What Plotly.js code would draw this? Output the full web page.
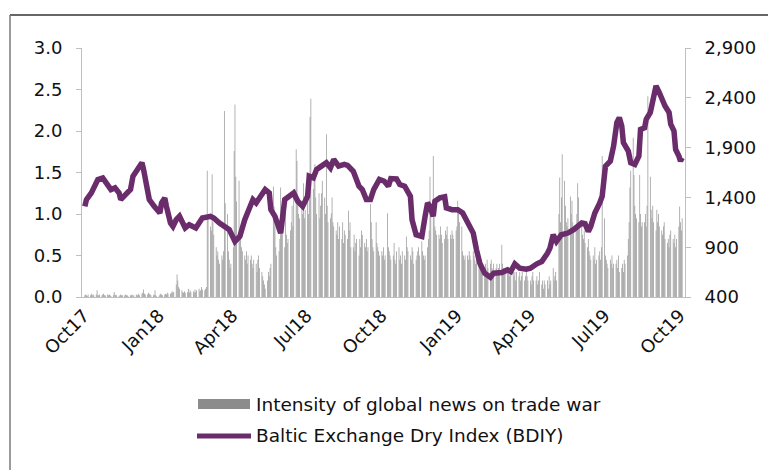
<!DOCTYPE html>
<html>
<head>
<meta charset="utf-8">
<script src="https://cdn.plot.ly/plotly-3.0.1.min.js"></script>
<style>html,body{margin:0;padding:0;background:#fff}#chart{width:768px;height:470px}</style>
</head>
<body>
<div id="chart"></div>
<script>
// ---- DATA ----
const newsStart = '2017-10-02'; // first business day; one value per business day (Mon-Fri)
const newsValues = [
  0.02,0.03,0.02,0.01,0.03, 0.02,0.04,0.02,0.03,0.02, 0.03,0.08,0.02,0.02,0.03, 0.02,0.03,0.04,0.02,0.02,
  0.03,0.02,0.03,0.02,0.01, 0.02,0.06,0.03,0.02,0.02, 0.01,0.02,0.03,0.02,0.02, 0.02,0.03,0.02,0.02,0.01,
  0.02,0.02,0.03,0.01,0.02, 0.03,0.02,0.02,0.04,0.02, 0.04,0.05,0.09,0.04,0.03, 0.03,0.05,0.04,0.03,0.02,
  0.02,0.03,0.08,0.02,0.01, 0.01,0.03,0.04,0.03,0.02, 0.03,0.04,0.03,0.05,0.04, 0.04,0.05,0.07,0.05,0.06,
  0.15,0.27,0.20,0.12,0.10, 0.08,0.06,0.05,0.07,0.05, 0.06,0.10,0.05,0.08,0.06, 0.07,0.05,0.09,0.06,0.08,
  0.10,0.07,0.08,0.12,0.09, 0.08,0.10,0.12,1.52,0.95, 0.85,0.80,1.48,0.90,0.75, 0.60,0.50,0.55,0.45,0.40,
  0.50,0.45,0.55,2.24,1.13, 1.00,0.55,0.45,0.35,0.40, 0.60,1.76,2.32,1.45,1.15, 1.40,0.80,0.70,0.60,0.55,
  0.50,0.45,0.55,0.40,0.50, 0.45,0.50,0.40,0.35,0.45, 0.40,0.30,0.45,0.50,0.35, 0.30,0.25,0.20,0.15,0.10,
  0.20,0.30,0.25,0.35,0.40, 1.33,1.09,0.85,0.60,0.50, 0.55,0.70,1.32,0.90,0.80, 0.60,1.20,0.75,0.65,0.70,
  0.80,0.90,1.10,0.85,1.30, 1.78,1.64,1.20,1.00,0.95, 1.10,1.00,1.37,0.95,1.05, 1.20,1.00,1.30,2.17,2.39,
  1.30,1.45,1.60,1.20,1.00, 1.25,0.95,1.10,1.25,1.40, 1.20,1.00,1.96,1.10,0.90, 0.95,1.01,1.20,0.90,0.85,
  0.80,0.75,0.90,0.70,0.85, 0.70,0.90,0.65,0.80,0.75, 0.70,1.04,0.80,0.90,0.60, 0.60,0.75,0.55,0.65,0.70,
  0.50,0.70,0.60,0.80,0.75, 0.65,0.60,0.70,0.55,0.60, 1.12,0.90,0.70,0.60,0.55, 0.90,0.65,0.60,0.55,0.50,
  0.55,0.50,0.60,0.45,0.50, 1.01,0.60,0.55,0.50,0.45, 0.50,0.65,0.45,0.40,0.55, 0.60,0.45,0.50,0.40,0.55,
  0.50,0.45,0.73,0.60,0.55, 0.50,0.45,0.60,0.55,0.40, 0.45,0.50,0.55,0.60,0.50, 0.67,0.55,0.50,0.45,0.50,
  0.60,0.70,0.80,1.45,1.00, 1.70,1.16,0.85,0.80,0.75, 0.75,0.70,0.85,0.75,0.65, 0.70,0.80,0.75,0.85,0.70,
  0.75,0.70,0.80,0.75,0.70, 0.80,0.85,1.16,1.00,0.90, 0.85,0.55,0.50,0.45,0.50, 0.50,0.45,0.55,0.50,0.45,
  0.55,0.50,0.45,0.40,0.50, 0.45,0.40,0.35,0.45,0.40, 0.35,0.40,0.30,0.45,0.35, 0.40,0.45,0.35,0.30,0.40,
  0.35,0.40,0.30,0.35,0.40, 0.63,0.40,0.35,0.30,0.35, 0.35,0.30,0.25,0.30,0.35, 0.30,0.25,0.30,0.20,0.30,
  0.25,0.30,0.20,0.25,0.30, 0.20,0.25,0.30,0.25,0.20, 0.20,0.15,0.25,0.30,0.20, 0.20,0.25,0.15,0.20,0.30,
  0.15,0.20,0.10,0.20,0.15, 0.20,0.10,0.25,0.15,0.20, 0.35,0.20,0.25,0.30,0.20, 1.00,1.44,0.90,1.20,1.72,
  1.40,1.10,0.90,0.85,0.95, 1.21,1.00,1.16,0.90,0.80, 0.85,1.00,1.37,1.20,0.90, 0.85,0.75,0.70,0.80,0.65,
  0.60,0.70,0.55,0.50,0.45, 0.50,0.45,0.60,0.40,0.45, 0.50,0.55,0.45,0.60,1.70, 0.95,0.50,0.45,0.40,0.35,
  0.45,0.40,0.50,0.35,0.40, 0.40,0.45,0.35,0.50,0.30, 0.35,0.40,0.30,0.45,0.40, 0.50,0.70,0.90,1.32,1.52,
  1.92,1.47,1.10,1.00,0.95, 0.90,1.47,1.00,0.85,0.90, 0.90,1.00,0.85,1.10,2.42, 1.45,1.05,0.95,1.10,0.90,
  0.80,1.05,0.90,1.00,0.85, 0.80,0.75,0.85,0.90,0.70, 0.65,0.70,0.60,0.75,0.80, 0.70,0.65,0.75,0.60,0.70,
  0.85,1.09,0.90,0.80,0.95
];

const bdiDates = [
  '2017-10-02','2017-10-04','2017-10-10','2017-10-18','2017-10-24','2017-10-30','2017-11-03','2017-11-08',
  '2017-11-13','2017-11-15','2017-11-17','2017-11-22','2017-11-27','2017-11-30','2017-12-05','2017-12-11',
  '2017-12-13','2017-12-15','2017-12-18','2017-12-20','2017-12-26','2018-01-02','2018-01-04','2018-01-08',
  '2018-01-10','2018-01-12','2018-01-15','2018-01-18','2018-01-22','2018-01-26','2018-01-30','2018-02-02',
  '2018-02-07','2018-02-12','2018-02-15','2018-02-19','2018-02-23','2018-03-05','2018-03-09','2018-03-16',
  '2018-03-23','2018-03-28','2018-04-04','2018-04-10','2018-04-16','2018-04-23','2018-04-26','2018-04-30',
  '2018-05-07','2018-05-11','2018-05-16','2018-05-18','2018-05-23','2018-05-28','2018-05-30','2018-06-04',
  '2018-06-11','2018-06-15','2018-06-20','2018-06-26','2018-07-02','2018-07-04','2018-07-09','2018-07-13',
  '2018-07-19','2018-07-25','2018-07-30','2018-08-03','2018-08-09','2018-08-16','2018-08-20','2018-08-27',
  '2018-09-03','2018-09-07','2018-09-12','2018-09-17','2018-09-21','2018-09-28','2018-10-04','2018-10-09',
  '2018-10-12','2018-10-19','2018-10-23','2018-10-29','2018-11-05','2018-11-07','2018-11-12','2018-11-19',
  '2018-11-23','2018-11-26','2018-11-29','2018-12-03','2018-12-05','2018-12-11','2018-12-17','2018-12-19',
  '2018-12-26','2019-01-02','2019-01-08','2019-01-14','2019-01-17','2019-01-21','2019-01-25','2019-01-29',
  '2019-02-04','2019-02-11','2019-02-15','2019-02-25','2019-03-04','2019-03-08','2019-03-13','2019-03-19',
  '2019-03-27','2019-04-01','2019-04-09','2019-04-15','2019-04-22','2019-04-25','2019-04-29','2019-05-03',
  '2019-05-09','2019-05-17','2019-05-24','2019-06-03','2019-06-07','2019-06-11','2019-06-14','2019-06-19',
  '2019-06-25','2019-06-28','2019-07-02','2019-07-08','2019-07-12','2019-07-16','2019-07-19','2019-07-22',
  '2019-07-24','2019-07-30','2019-08-02','2019-08-07','2019-08-12','2019-08-14','2019-08-19','2019-08-21',
  '2019-08-26','2019-08-30','2019-09-02','2019-09-06','2019-09-10','2019-09-13','2019-09-18','2019-09-20',
  '2019-09-24','2019-09-26','2019-09-30','2019-10-02','2019-10-04'
];
const bdiValues = [
  1310,1378,1445,1580,1596,1529,1479,1496,
  1445,1378,1395,1445,1479,1613,1680,1748,
  1680,1596,1512,1378,1310,1244,1344,1395,
  1310,1244,1143,1109,1176,1210,1143,1093,
  1126,1109,1093,1143,1193,1210,1193,1143,
  1109,1076,957,1008,1176,1344,1378,1344,
  1445,1479,1445,1277,1210,1076,1042,1378,
  1411,1445,1361,1310,1411,1613,1596,1680,
  1714,1748,1697,1781,1714,1731,1721,1663,
  1512,1479,1378,1378,1479,1580,1562,1512,
  1589,1586,1529,1512,1411,1176,1025,1008,
  1210,1344,1310,1210,1361,1395,1405,1294,
  1277,1277,1244,1143,1109,1042,874,740,
  639,598,639,645,672,655,733,689,
  679,689,733,756,840,891,1025,957,
  1025,1042,1076,1143,1136,1058,1109,1244,
  1344,1411,1714,1764,1915,2151,2201,2117,
  1949,1865,1748,1731,1815,2083,2100,2184,
  2252,2419,2520,2453,2369,2318,2252,2134,
  2067,1882,1815,1764,1798
];

const tickDates = ['2017-10-01','2018-01-01','2018-04-01','2018-07-01','2018-10-01','2019-01-01','2019-04-01','2019-07-01','2019-10-01'];
const tickLabels = ['Oct17','Jan18','Apr18','Jul18','Oct18','Jan19','Apr19','Jul19','Oct19'];
const seriesNames = ['Intensity of global news on trade war','Baltic Exchange Dry Index (BDIY)'];

// ---- BUILD ----
const newsDates = [];
const cur = new Date(newsStart + 'T00:00:00Z');
while (newsDates.length < newsValues.length) {
  const wd = cur.getUTCDay();
  if (wd !== 0 && wd !== 6) newsDates.push(cur.toISOString().slice(0, 10));
  cur.setUTCDate(cur.getUTCDate() + 1);
}

const purple = '#6b2c6b';
const barGray = '#999999';
const axisGray = '#bfbfbf';
const fontFam = 'DejaVu Sans, Liberation Sans, Arial, sans-serif';
const tickFont = {family: fontFam, size: 18, color: '#111'};

const traces = [
  {type: 'bar', x: newsDates, y: newsValues, name: seriesNames[0],
   marker: {color: barGray, line: {width: 0}}, yaxis: 'y', hoverinfo: 'skip'},
  {type: 'scatter', mode: 'lines', x: bdiDates, y: bdiValues, name: seriesNames[1],
   line: {color: purple, width: 5.5}, yaxis: 'y2', hoverinfo: 'skip'}
];

// plot area in pixels: x 82..685, y 48..297
const L = 82, R = 685, T = 48, B = 297;
const px = v => (v - L) / (R - L);
const py = v => (B - v) / (B - T);

const layout = {
  width: 768, height: 470,
  margin: {l: L, r: 768 - R, t: T, b: 470 - B, pad: 0},
  paper_bgcolor: '#fff', plot_bgcolor: '#fff',
  showlegend: false,
  bargap: 0.08,
  font: tickFont,
  xaxis: {
    type: 'date', range: ['2017-09-28 13:00', '2019-10-07 12:00'],
    tickmode: 'array', tickvals: tickDates, ticktext: tickLabels, tickangle: -45,
    showgrid: false, zeroline: false, showline: true, linecolor: axisGray, linewidth: 1,
    ticks: '', tickfont: tickFont
  },
  yaxis: {
    range: [0, 3], tick0: 0, dtick: 0.5, tickformat: '.1f',
    showgrid: false, zeroline: false, showline: true, linecolor: axisGray, linewidth: 1,
    ticks: 'outside', ticklen: 5, tickcolor: axisGray, tickwidth: 1,
    ticklabelstandoff: 10, tickfont: tickFont
  },
  yaxis2: {
    overlaying: 'y', side: 'right', anchor: 'x',
    range: [400, 2900], tick0: 400, dtick: 500, tickformat: ',',
    showgrid: false, zeroline: false, showline: true, linecolor: axisGray, linewidth: 1,
    ticks: 'outside', ticklen: 5, tickcolor: axisGray, tickwidth: 1,
    ticklabelstandoff: 10, tickfont: tickFont
  },
  shapes: [
    // outer frame (top and left edges)
    {type: 'line', xref: 'paper', yref: 'paper', x0: px(10), x1: px(768), y0: py(15), y1: py(15),
     line: {color: '#333', width: 1.5}},
    {type: 'line', xref: 'paper', yref: 'paper', x0: px(10), x1: px(10), y0: py(15), y1: py(470),
     line: {color: '#7a7a7a', width: 1.5}},
    // legend swatches
    {type: 'rect', xref: 'paper', yref: 'paper', x0: px(198), x1: px(250), y0: py(409), y1: py(399),
     fillcolor: '#8c8c8c', line: {width: 0}},
    {type: 'line', xref: 'paper', yref: 'paper', x0: px(197), x1: px(251), y0: py(436), y1: py(436),
     line: {color: purple, width: 5}}
  ],
  annotations: [
    {xref: 'paper', yref: 'paper', x: px(254), y: py(404), xanchor: 'left', yanchor: 'middle',
     text: seriesNames[0], showarrow: false, font: {family: fontFam, size: 18.5, color: '#111'}},
    {xref: 'paper', yref: 'paper', x: px(254), y: py(436), xanchor: 'left', yanchor: 'middle',
     text: seriesNames[1], showarrow: false, font: {family: fontFam, size: 18.5, color: '#111'}}
  ]
};

Plotly.newPlot('chart', traces, layout, {displayModeBar: false, staticPlot: true});
</script>
</body>
</html>
